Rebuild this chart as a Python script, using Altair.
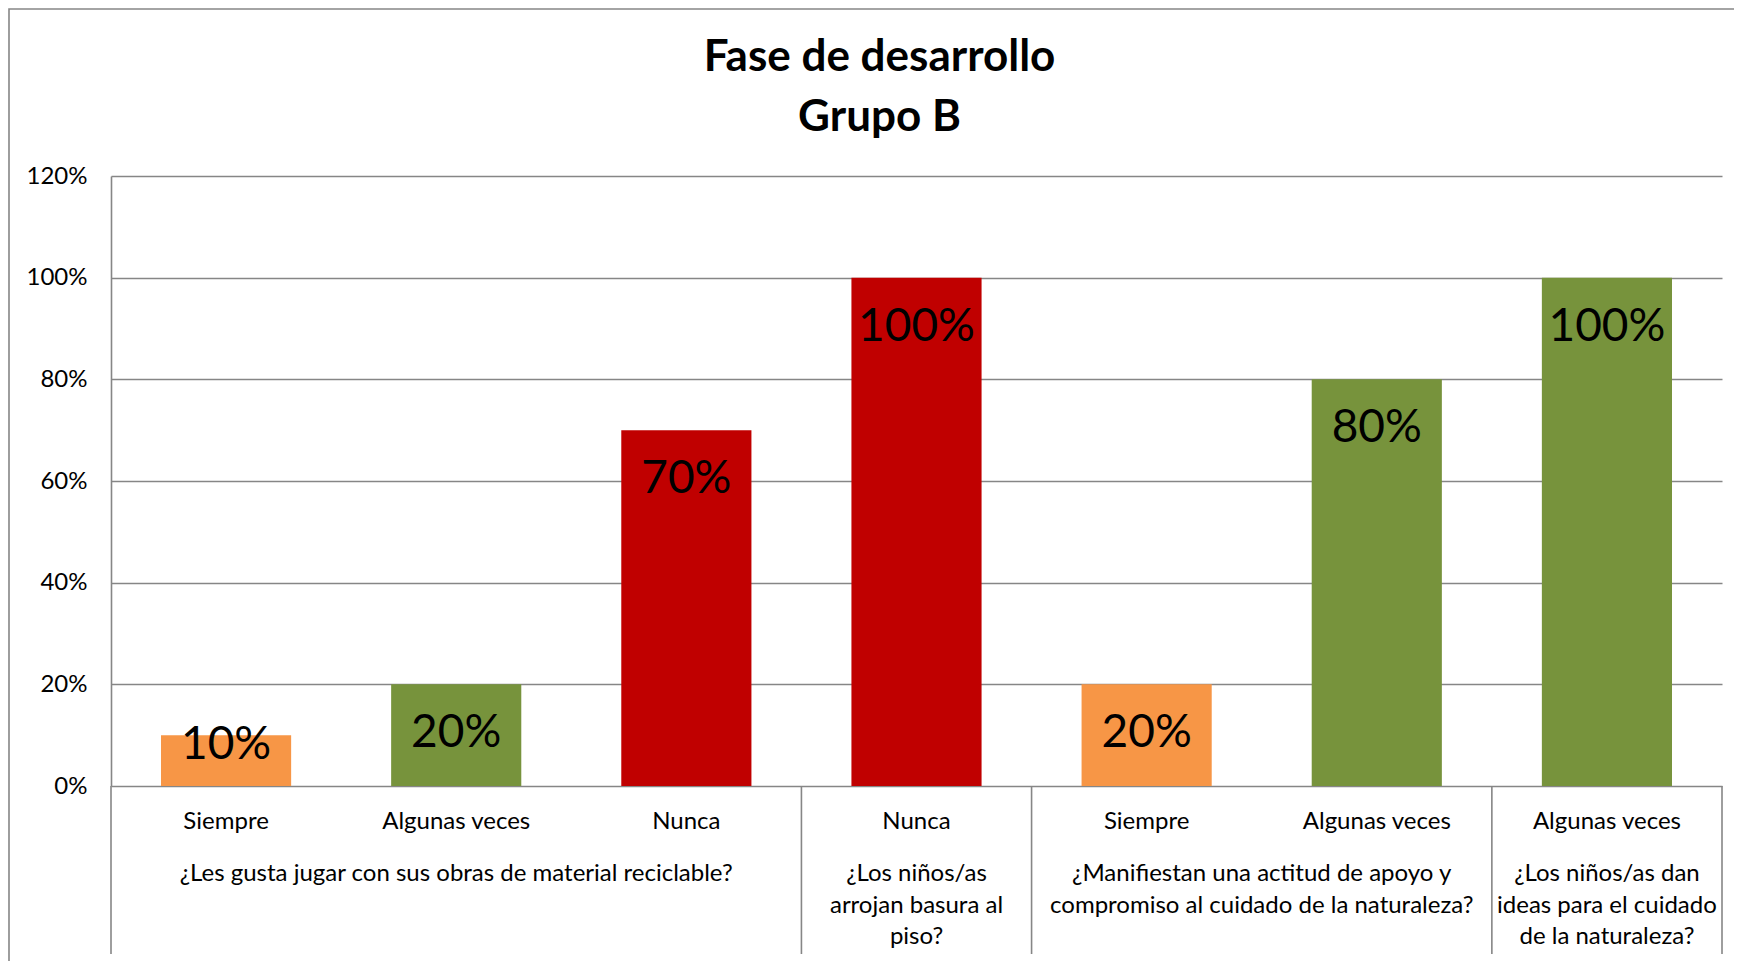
import altair as alt
import pandas as pd

# ---- data ----
categories = ["Siempre", "Algunas veces", "Nunca", "Nunca", "Siempre", "Algunas veces", "Algunas veces"]
values = [0.10, 0.20, 0.70, 1.00, 0.20, 0.80, 1.00]
questions = [
    "¿Les gusta jugar con sus obras de material reciclable?",
    "¿Los niños/as\narrojan basura al\npiso?",
    "¿Manifiestan una actitud de apoyo y\ncompromiso al cuidado de la naturaleza?",
    "¿Los niños/as dan\nideas para el cuidado\nde la naturaleza?",
]
question_sizes = [3, 1, 2, 1]
color_domain = ["Siempre", "Algunas veces", "Nunca"]
color_range = ["#F79646", "#77933C", "#C00000"]
y_ticks = [0, 0.2, 0.4, 0.6, 0.8, 1.0, 1.2]
title_lines = ["Fase de desarrollo", "Grupo B"]

# ---- layout ----
W, H = 1611, 610
FONT = "Lato"
GRID = "#868686"

bars_df = pd.DataFrame({"idx": list(range(len(values))), "cat": categories, "val": values})
starts = [sum(question_sizes[:i]) for i in range(len(question_sizes))]
q_df = pd.DataFrame({"q": questions,
                     "center": [s + n / 2 for s, n in zip(starts, question_sizes)]})
sep_df = pd.DataFrame({"b": [0] + [s + n for s, n in zip(starts, question_sizes)]})
frame_df = pd.DataFrame({"k": [0]})

n = len(values)
xband = alt.X("idx:O", axis=None,
              scale=alt.Scale(paddingInner=0.4345, paddingOuter=0.21725))
yscale = alt.Scale(domain=[0, 1.2])
yaxis = alt.Axis(format=".0%", values=y_ticks, grid=True, gridColor=GRID,
                 gridWidth=1.6, domainColor=GRID, domainWidth=1.6,
                 ticks=False, labelFontSize=24, labelFont=FONT,
                 labelColor="#000", labelPadding=24, title=None)
xq = alt.Scale(domain=[0, n])

bars = alt.Chart(bars_df).mark_bar().encode(
    x=xband,
    y=alt.Y("val:Q", scale=yscale, axis=yaxis),
    color=alt.Color("cat:N", scale=alt.Scale(domain=color_domain, range=color_range),
                    legend=None),
)

bar_labels = alt.Chart(bars_df).transform_calculate(
    ly="max(datum.val, 0.177)"
).mark_text(font=FONT, fontSize=46, baseline="middle", dy=49, color="#000").encode(
    x=xband,
    y=alt.Y("ly:Q", scale=yscale, axis=yaxis),
    text=alt.Text("val:Q", format=".0%"),
)

cat_labels = alt.Chart(bars_df).mark_text(
    font=FONT, fontSize=24, baseline="middle", color="#000"
).encode(x=xband, y=alt.value(H + 36), text="cat:N")

q_labels = alt.Chart(q_df).mark_text(
    font=FONT, fontSize=24, baseline="top", lineBreak="\n", lineHeight=31.7, color="#000"
).encode(x=alt.X("center:Q", scale=xq, axis=None), y=alt.value(H + 76), text="q:N")

seps = alt.Chart(sep_df).mark_rule(color=GRID, strokeWidth=1.6).encode(
    x=alt.X("b:Q", scale=xq, axis=None), y=alt.value(H), y2=alt.value(H + 168)
)

frame = alt.Chart(frame_df).mark_rect(fill="transparent", stroke=GRID, strokeWidth=1.6).encode(
    x=alt.value(-102), x2=alt.value(W + 300), y=alt.value(-167), y2=alt.value(H + 400)
)

chart = alt.layer(frame, bars, bar_labels, cat_labels, q_labels, seps).resolve_scale(
    x="independent"
).properties(
    width=W, height=H,
    title=alt.Title(title_lines, font=FONT, fontSize=44, fontWeight="bold", color="#000",
                    lineHeight=60, anchor="middle", frame="group", dx=-37, offset=-132),
    padding={"left": 103, "top": 168, "right": 12, "bottom": 175},
    autosize=alt.AutoSizeParams(type="none"),
).configure_view(stroke="transparent")

chart.save("out.html", embed_options={"renderer": "svg", "actions": False})
